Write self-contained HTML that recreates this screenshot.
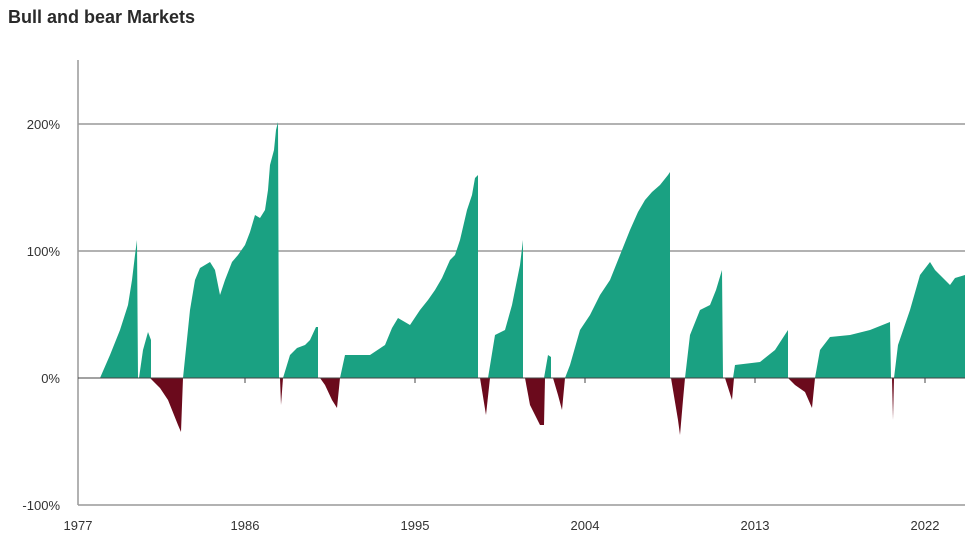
<!DOCTYPE html><html><head><style>body{margin:0;background:#fff;width:975px;height:544px;overflow:hidden;font-family:"Liberation Sans",sans-serif}</style></head><body>
<svg width="975" height="544" xmlns="http://www.w3.org/2000/svg">
<text x="8" y="23" font-size="18" font-weight="bold" fill="#2a2a2a">Bull and bear Markets</text>
<g stroke="#999" stroke-width="1.5"><line x1="78" y1="124" x2="965" y2="124"/><line x1="78" y1="251" x2="965" y2="251"/><line x1="78" y1="60" x2="78" y2="505"/><line x1="78" y1="505" x2="965" y2="505"/></g>
<g fill="#1aa182">
<polygon points="100,378 110,355 120,330 128,305 132,280 135,255 137,240 138,378"/>
<polygon points="139,378 143,350 148,332 151,340 151,378"/>
<polygon points="183,378 190,310 195,280 200,268 205,265 210,262 215,270 220,295 225,280 232,262 238,255 245,245 250,232 255,215 260,218 265,210 268,190 270,165 274,150 276,130 278,122 279,378"/>
<polygon points="283,378 290,355 297,348 305,345 310,340 316,327 318,327 318,378"/>
<polygon points="340,378 345,355 370,355 385,345 392,328 398,318 410,325 420,310 428,300 435,290 442,278 450,260 455,255 460,240 467,210 472,195 475,178 478,175 478,378"/>
<polygon points="488,378 495,335 505,330 512,305 515,290 520,265 523,240 523,378"/>
<polygon points="544,378 548,355 551,357 551,378"/>
<polygon points="565,378 570,365 580,330 590,315 600,295 610,280 620,255 630,230 638,212 645,200 652,192 660,185 668,175 670,172 670,378"/>
<polygon points="685,378 690,335 700,310 710,305 716,290 722,270 723,378"/>
<polygon points="733,378 735,365 760,362 775,350 788,330 788,378"/>
<polygon points="815,378 820,350 830,337 850,335 870,330 890,322 891,378"/>
<polygon points="894,378 898,345 910,310 920,275 930,262 935,270 940,275 950,285 955,278 965,275 965,378"/>
</g>
<g fill="#6b0a1c">
<polygon points="150,378 160,388 168,400 178,425 181,432 183,378"/>
<polygon points="280,378 281,405 283,378"/>
<polygon points="320,378 325,385 332,400 337,408 340,378"/>
<polygon points="480,378 486,415 490,378"/>
<polygon points="525,378 530,405 540,425 544,425 545,378"/>
<polygon points="553,378 558,395 562,410 565,378"/>
<polygon points="671,378 678,420 680,435 683,400 685,378"/>
<polygon points="725,378 732,400 734,378"/>
<polygon points="788,378 795,385 805,392 812,408 815,378"/>
<polygon points="892,378 893,420 894,378"/>
</g>
<line x1="78" y1="378" x2="965" y2="378" stroke="#444" stroke-width="1"/>
<g stroke="#444" stroke-width="1"><line x1="245" y1="378" x2="245" y2="383"/><line x1="415" y1="378" x2="415" y2="383"/><line x1="585" y1="378" x2="585" y2="383"/><line x1="755" y1="378" x2="755" y2="383"/><line x1="925" y1="378" x2="925" y2="383"/></g>
<g font-size="13" fill="#333" text-anchor="end"><text x="60" y="129">200%</text><text x="60" y="256">100%</text><text x="60" y="383">0%</text><text x="60" y="510">-100%</text></g>
<g font-size="13" fill="#333" text-anchor="middle"><text x="78" y="530">1977</text><text x="245" y="530">1986</text><text x="415" y="530">1995</text><text x="585" y="530">2004</text><text x="755" y="530">2013</text><text x="925" y="530">2022</text></g>
</svg></body></html>
